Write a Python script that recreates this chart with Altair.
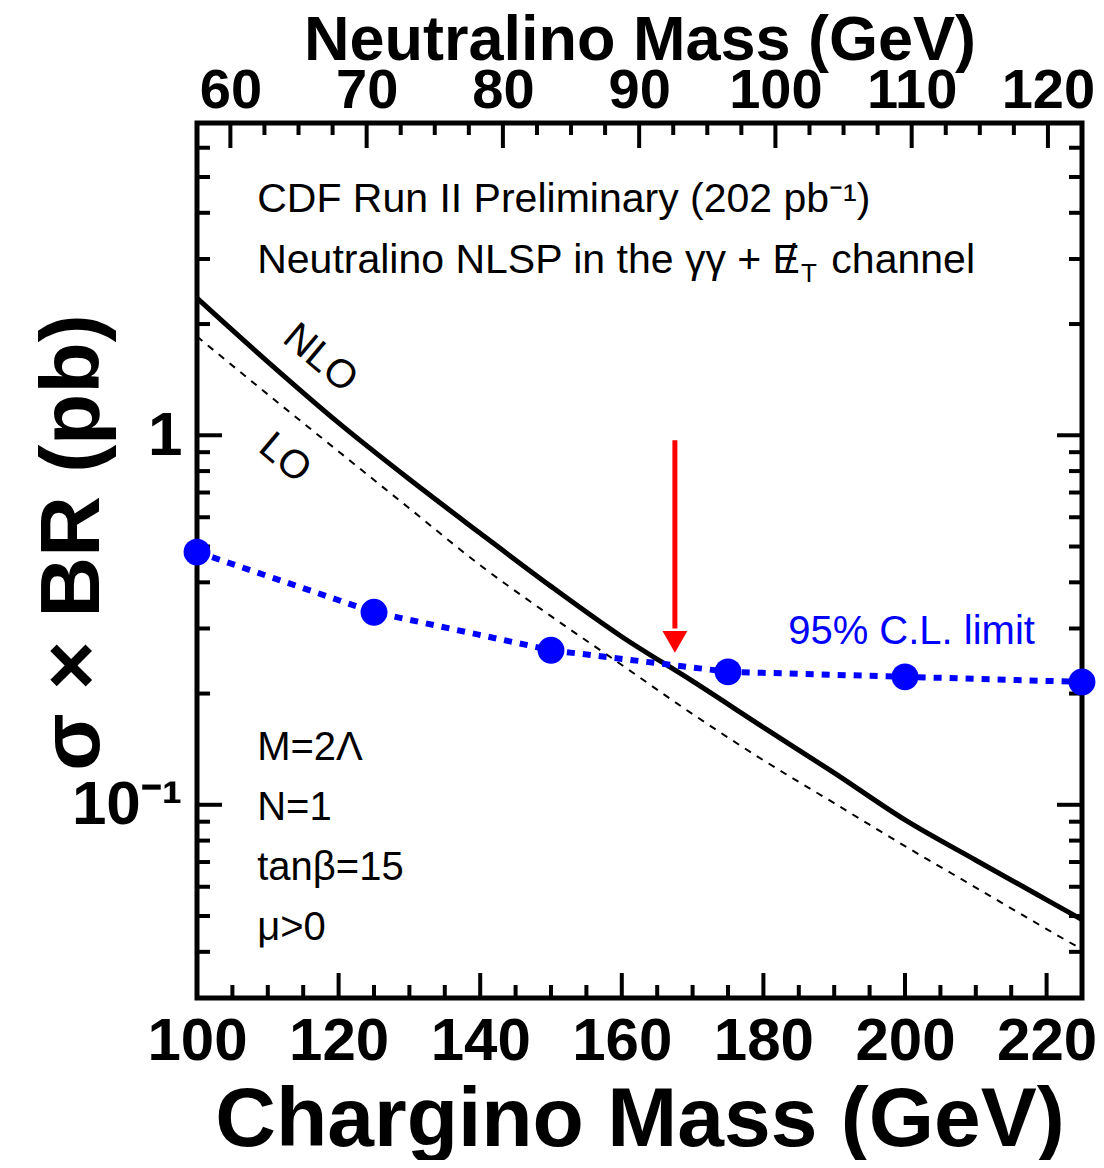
import altair as alt
import pandas as pd

# ---------------- data ----------------
chargino_mass = [100, 110, 120, 130, 140, 150, 160, 170, 180, 190, 200, 210, 220, 225]
nlo_xsec = [2.35, 1.58, 1.08, 0.76, 0.543, 0.39, 0.285, 0.216, 0.162, 0.122, 0.091, 0.0708, 0.0553, 0.0489]
lo_xsec = [1.85, 1.29, 0.904, 0.634, 0.445, 0.324, 0.239, 0.176, 0.132, 0.101, 0.0773, 0.0597, 0.0461, 0.0406]

limit_mass = [100, 125, 150, 175, 200, 225]
limit_xsec = [0.483, 0.332, 0.262, 0.229, 0.222, 0.215]

arrow_mass = [167.5]
arrow_from = [0.97]
arrow_to = [0.30]
arrow_head = [0.276]

x_major = [100, 120, 140, 160, 180, 200, 220]
x_minor = [105, 110, 115, 125, 130, 135, 145, 150, 155, 165, 170, 175, 185, 190, 195, 205, 210, 215]
top_major = [60, 70, 80, 90, 100, 110, 120]
top_minor = [62.5, 65, 67.5, 72.5, 75, 77.5, 82.5, 85, 87.5, 92.5, 95, 97.5,
             102.5, 105, 107.5, 112.5, 115, 117.5, 122.5]
y_major = [0.1, 1]
y_minor = [0.04, 0.05, 0.06, 0.07, 0.08, 0.09, 0.2, 0.3, 0.4, 0.5, 0.6, 0.7, 0.8, 0.9,
           2, 3, 4, 5, 6, 7]

W, H = 885, 875
FONT = "Liberation Sans"

curves = pd.DataFrame({"mass": chargino_mass, "nlo": nlo_xsec, "lo": lo_xsec})
limit = pd.DataFrame({"mass": limit_mass, "xsec": limit_xsec})
arrow = pd.DataFrame({"mass": arrow_mass, "y1": arrow_from, "y2": arrow_to, "head": arrow_head})

xscale = alt.Scale(domain=[100, 225], nice=False, zero=False)
yscale = alt.Scale(type="log", domain=[0.03, 7], nice=False)

xaxis = alt.Axis(values=x_major, ticks=False, tickSize=0, domain=False, grid=False,
                 labelFont=FONT, labelFontWeight="bold", labelFontSize=60,
                 labelPadding=14, labelColor="black", labelFlush=False, labelOverlap=False,
                 title="Chargino Mass (GeV)", titleFont=FONT, titleFontWeight="bold",
                 titleFontSize=84, titleColor="black", titleBaseline="alphabetic",
                 titleY=147, titleX=W / 2, titleAlign="center")
yaxis = alt.Axis(values=y_major, ticks=False, tickSize=0, domain=False, grid=False,
                 labelExpr="datum.value == 1 ? '1\u00a0' : '10⁻¹'",
                 labelFont=FONT, labelFontWeight="bold", labelFontSize=62,
                 labelPadding=15, labelColor="black", labelFlush=False, labelOverlap=False,
                 title="σ × BR  (pb)", titleFont=FONT, titleFontWeight="bold",
                 titleFontSize=84, titleColor="black", titleX=-124, titleY=419,
                 titleAngle=-90, titleBaseline="middle", titleAlign="center")

X = alt.X("mass:Q", scale=xscale, axis=xaxis)


def Y(field):
    return alt.Y(f"{field}:Q", scale=yscale, axis=yaxis)


nlo = alt.Chart(curves).mark_line(color="black", strokeWidth=5, interpolate="monotone", clip=True).encode(
    x=X, y=Y("nlo"))
lo = alt.Chart(curves).mark_line(color="black", strokeWidth=2, strokeDash=[7, 7],
                                 interpolate="monotone", clip=True).encode(x=X, y=Y("lo"))
lim_line = alt.Chart(limit).mark_line(color="#0000FF", strokeWidth=6, strokeDash=[8, 8]).encode(
    x=X, y=Y("xsec"))
lim_pts = alt.Chart(limit).mark_point(color="#0000FF", filled=True, opacity=1, size=720).encode(
    x=X, y=Y("xsec"))

arrow_rule = alt.Chart(arrow).mark_rule(color="#FF0000", strokeWidth=5).encode(
    x=X, y=Y("y1"), y2="y2:Q")
arrow_tip = alt.Chart(arrow).mark_point(shape="triangle-down", color="#FF0000", filled=True,
                                        opacity=1, size=620).encode(x=X, y=Y("head"))

# inward ticks on the frame
ym = pd.DataFrame({"v": y_major})
yn = pd.DataFrame({"v": y_minor})
xm = pd.DataFrame({"mass": x_major})
xn = pd.DataFrame({"mass": x_minor})
tick_style = dict(color="black", strokeWidth=4)
YV = alt.Y("v:Q", scale=yscale, axis=yaxis)
left_major = alt.Chart(ym).mark_rule(**tick_style).encode(y=YV, x=alt.value(0), x2=alt.value(25))
left_minor = alt.Chart(yn).mark_rule(**tick_style).encode(y=YV, x=alt.value(0), x2=alt.value(13))
right_major = alt.Chart(ym).mark_rule(**tick_style).encode(y=YV, x=alt.value(W), x2=alt.value(W - 25))
right_minor = alt.Chart(yn).mark_rule(**tick_style).encode(y=YV, x=alt.value(W), x2=alt.value(W - 13))
bot_major = alt.Chart(xm).mark_rule(**tick_style).encode(x=X, y=alt.value(H), y2=alt.value(H - 25))
bot_minor = alt.Chart(xn).mark_rule(**tick_style).encode(x=X, y=alt.value(H), y2=alt.value(H - 13))


def label(text, x, y, size=40, color="black", angle=0, align="left", weight="normal"):
    df = pd.DataFrame({"mass": [x], "v": [y], "t": [text]})
    return alt.Chart(df).mark_text(font=FONT, fontSize=size, color=color, angle=angle,
                                   align=align, baseline="middle", fontWeight=weight).encode(
        x=X, y=YV, text="t:N")


texts = [
    label("CDF Run II Preliminary (202 pb⁻¹)", 108.5, 4.32, size=41),
    label("Neutralino NLSP in the γγ + E", 108.5, 2.97, size=41),
    label("/", 183.8, 2.97, size=41, align="center"),
    label("T", 185.3, 2.74, size=26),
    label("channel", 189.6, 2.97, size=41),
    label("95% C.L. limit", 183.5, 0.294, size=40, color="#0000FF"),
    label("M=2Λ", 108.5, 0.1428, size=40),
    label("N=1", 108.5, 0.0982, size=40),
    label("tanβ=15", 108.5, 0.0676, size=40),
    label("μ>0", 108.5, 0.0465, size=40),
    label("NLO", 117.4, 1.615, size=40, angle=40, align="center"),
    label("LO", 112.4, 0.867, size=40, angle=40, align="center"),
]

main = alt.layer(left_major, left_minor, right_major, right_minor, bot_major, bot_minor,
                 lo, nlo, lim_line, lim_pts, arrow_rule, arrow_tip, *texts)

# top axis: neutralino mass, independent linear scale
top_scale = alt.Scale(domain=[57.55, 122.5], nice=False, zero=False)
top_axis = alt.Axis(orient="top", values=top_major, ticks=False, tickSize=0, domain=False, grid=False,
                    labelFont=FONT, labelFontWeight="bold", labelFontSize=56, labelPadding=4,
                    labelColor="black", labelFlush=False, labelOverlap=False,
                    title="Neutralino Mass (GeV)", titleFont=FONT, titleFontWeight="bold",
                    titleFontSize=63, titleColor="black", titleBaseline="alphabetic",
                    titleY=-64, titleX=W / 2, titleAlign="center")
XT = alt.X("n:Q", scale=top_scale, axis=top_axis)
tm = pd.DataFrame({"n": top_major})
tn = pd.DataFrame({"n": top_minor})
top_major_t = alt.Chart(tm).mark_rule(**tick_style).encode(x=XT, y=alt.value(0), y2=alt.value(25))
top_minor_t = alt.Chart(tn).mark_rule(**tick_style).encode(x=XT, y=alt.value(0), y2=alt.value(12))
top = alt.layer(top_major_t, top_minor_t)

chart = alt.layer(main, top).resolve_scale(x="independent").properties(
    width=W, height=H,
    autosize=alt.AutoSizeParams(type="none"),
    padding={"left": 189, "top": 115, "right": 14, "bottom": 162},
).configure_view(stroke="black", strokeWidth=5)

chart.save("out.html", embed_options={"renderer": "svg", "actions": False})
